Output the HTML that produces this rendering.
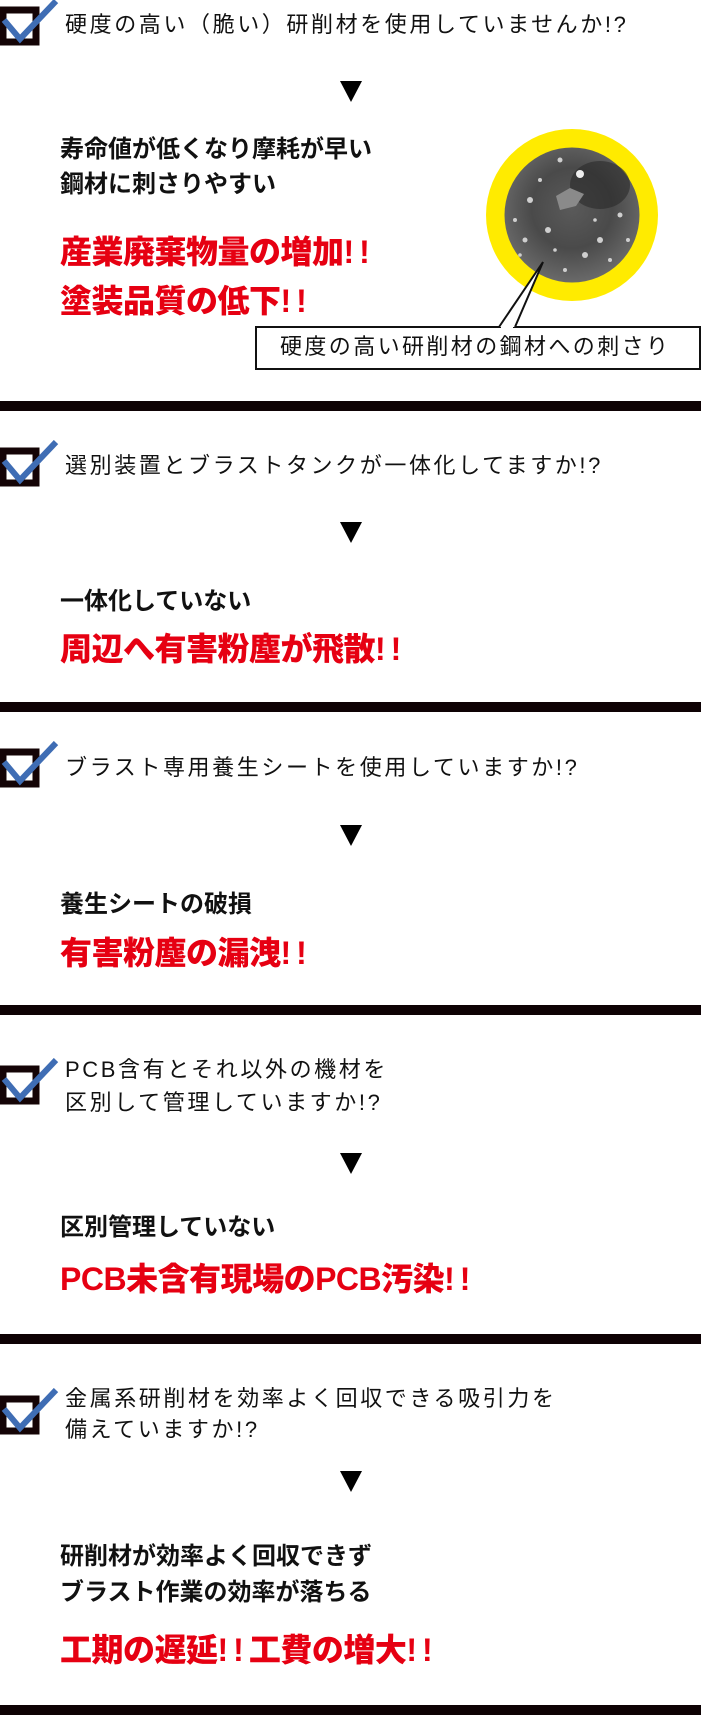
<!DOCTYPE html>
<html><head><meta charset="utf-8"><style>
html,body{margin:0;padding:0;background:#fff;}
body{width:701px;height:1715px;position:relative;overflow:hidden;font-family:"Liberation Sans","Noto Sans CJK JP",sans-serif;}
.a{position:absolute;white-space:nowrap;line-height:1;}
.q{font-size:22px;color:#111;letter-spacing:2.6px;font-weight:400;left:65px;}
.b{font-size:24px;color:#111;font-weight:700;left:60px;}
.r{font-size:32px;color:#e60012;font-weight:900;left:60px;letter-spacing:-0.5px;}
.r i{font-style:normal;letter-spacing:5px;}
.bar{position:absolute;left:0;width:701px;height:10px;background:#0e0204;}
.tri{position:absolute;left:340px;width:0;height:0;border-left:11px solid transparent;border-right:11px solid transparent;border-top:21px solid #000;}
.cb{position:absolute;left:0;width:40px;height:40px;}
</style></head><body>

<!-- Section 1 -->
<svg class="cb" style="top:-1px;height:50px;width:60px" viewBox="0 0 60 50"><rect x="3" y="11" width="33" height="32" fill="#fff" stroke="#140406" stroke-width="7"/><polyline points="4,21 20,40 56,2" fill="none" stroke="#3f6db4" stroke-width="6"/></svg>
<div class="a q" style="top:14px">硬度の高い（脆い）研削材を使用していませんか!?</div>
<div class="tri" style="top:81px"></div>
<div class="a b" style="top:138px">寿命値が低くなり摩耗が早い</div>
<div class="a b" style="top:173px">鋼材に刺さりやすい</div>
<div class="a r" style="top:236px">産業廃棄物量の増加<i>!!</i></div>
<div class="a r" style="top:285px">塗装品質の低下<i>!!</i></div>

<svg style="position:absolute;left:0;top:0" width="701" height="400">
<defs>
<radialGradient id="g" cx="0.5" cy="0.45" r="0.6">
<stop offset="0" stop-color="#5a5a5a"/><stop offset="0.5" stop-color="#4a4a4a"/><stop offset="1" stop-color="#707070"/>
</radialGradient>
</defs>
<circle cx="572" cy="215" r="86" fill="#ffeb00"/>
<circle cx="572" cy="215" r="67.5" fill="url(#g)"/>
<ellipse cx="600" cy="185" rx="30" ry="24" fill="#2a2a2a" opacity="0.6"/>
<g fill="#cfcfcf">
<circle cx="580" cy="174" r="4" fill="#eee"/>
<circle cx="530" cy="200" r="3"/><circle cx="548" cy="230" r="3"/><circle cx="600" cy="240" r="3"/>
<circle cx="560" cy="160" r="2.5"/><circle cx="620" cy="215" r="2.5"/><circle cx="585" cy="255" r="3"/>
<circle cx="525" cy="240" r="2.5"/><circle cx="540" cy="180" r="2"/><circle cx="515" cy="220" r="2"/>
<circle cx="610" cy="260" r="2"/><circle cx="565" cy="270" r="2"/><circle cx="628" cy="240" r="2"/>
<circle cx="555" cy="250" r="1.8"/><circle cx="595" cy="220" r="1.8"/><circle cx="520" cy="255" r="1.8"/>
</g>
<path d="M556 196 L570 188 L584 194 L576 206 L560 210 Z" fill="#8a8a8a"/>
<rect x="256" y="327" width="444" height="42" fill="#fff" stroke="#111" stroke-width="2"/>
<polyline points="499,327 543,262 515,327" fill="#fff" stroke="#111" stroke-width="2"/>
<line x1="501" y1="327" x2="513" y2="327" stroke="#fff" stroke-width="3"/>
</svg>
<div class="a" style="left:280px;top:336px;font-size:22px;color:#111;letter-spacing:2.4px">硬度の高い研削材の鋼材への刺さり</div>
<div class="bar" style="top:401px"></div>

<!-- Section 2 -->
<svg class="cb" style="top:440px;height:50px;width:60px" viewBox="0 0 60 50"><rect x="3" y="11" width="33" height="32" fill="#fff" stroke="#140406" stroke-width="7"/><polyline points="4,21 20,40 56,2" fill="none" stroke="#3f6db4" stroke-width="6"/></svg>
<div class="a q" style="top:455px">選別装置とブラストタンクが一体化してますか!?</div>
<div class="tri" style="top:522px"></div>
<div class="a b" style="top:590px">一体化していない</div>
<div class="a r" style="top:633px">周辺へ有害粉塵が飛散<i>!!</i></div>
<div class="bar" style="top:702px"></div>

<!-- Section 3 -->
<svg class="cb" style="top:741px;height:50px;width:60px" viewBox="0 0 60 50"><rect x="3" y="11" width="33" height="32" fill="#fff" stroke="#140406" stroke-width="7"/><polyline points="4,21 20,40 56,2" fill="none" stroke="#3f6db4" stroke-width="6"/></svg>
<div class="a q" style="top:757px">ブラスト専用養生シートを使用していますか!?</div>
<div class="tri" style="top:825px"></div>
<div class="a b" style="top:893px">養生シートの破損</div>
<div class="a r" style="top:937px">有害粉塵の漏洩<i>!!</i></div>
<div class="bar" style="top:1005px"></div>

<!-- Section 4 -->
<svg class="cb" style="top:1058px;height:50px;width:60px" viewBox="0 0 60 50"><rect x="3" y="11" width="33" height="32" fill="#fff" stroke="#140406" stroke-width="7"/><polyline points="4,21 20,40 56,2" fill="none" stroke="#3f6db4" stroke-width="6"/></svg>
<div class="a q" style="top:1059px">PCB含有とそれ以外の機材を</div>
<div class="a q" style="top:1092px">区別して管理していますか!?</div>
<div class="tri" style="top:1153px"></div>
<div class="a b" style="top:1216px">区別管理していない</div>
<div class="a r" style="top:1263px">PCB未含有現場のPCB汚染<i>!!</i></div>
<div class="bar" style="top:1334px"></div>

<!-- Section 5 -->
<svg class="cb" style="top:1388px;height:50px;width:60px" viewBox="0 0 60 50"><rect x="3" y="11" width="33" height="32" fill="#fff" stroke="#140406" stroke-width="7"/><polyline points="4,21 20,40 56,2" fill="none" stroke="#3f6db4" stroke-width="6"/></svg>
<div class="a q" style="top:1388px">金属系研削材を効率よく回収できる吸引力を</div>
<div class="a q" style="top:1419px">備えていますか!?</div>
<div class="tri" style="top:1471px"></div>
<div class="a b" style="top:1545px">研削材が効率よく回収できず</div>
<div class="a b" style="top:1581px">ブラスト作業の効率が落ちる</div>
<div class="a r" style="top:1634px">工期の遅延<i>!!</i>工費の増大<i>!!</i></div>
<div class="bar" style="top:1705px"></div>

</body></html>
